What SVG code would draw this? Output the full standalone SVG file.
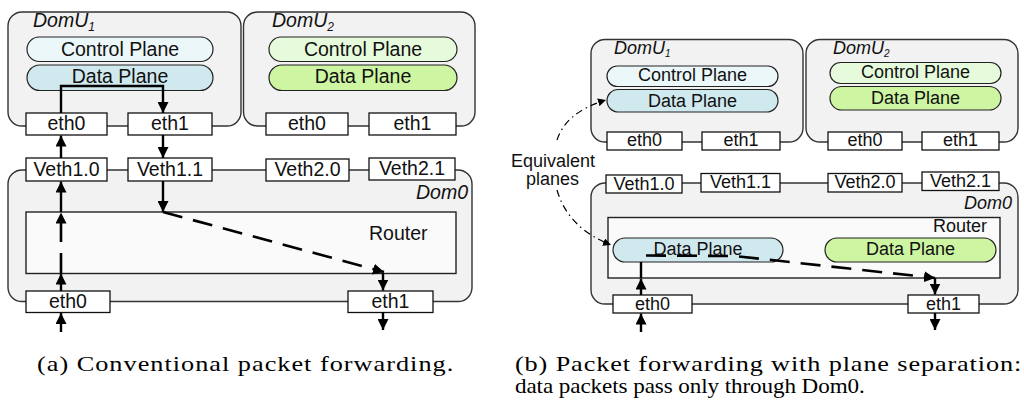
<svg xmlns="http://www.w3.org/2000/svg" width="1024" height="406" viewBox="0 0 1024 406">
<style>
.dom{fill:#f2f2f2;stroke:#333;stroke-width:1.4}
.rt{fill:#fafafa;stroke:#222;stroke-width:1.4}
.bx{fill:#fff;stroke:#111;stroke-width:1.3}
.cpb{fill:#ecf7fa;stroke:#222;stroke-width:1.2}
.dpb{fill:#d0e9ef;stroke:#222;stroke-width:1.2}
.cpg{fill:#e6fbdb;stroke:#222;stroke-width:1.2}
.dpg{fill:#cdf5a2;stroke:#222;stroke-width:1.2}
text{font-family:"Liberation Sans",Arial,sans-serif;fill:#111}
.a{font-size:19.5px}
.b{font-size:18px}
.c{text-anchor:middle}
.it{font-style:italic}
.cap{font-family:"Liberation Serif","Times New Roman",serif;font-size:21px;fill:#000}
.ar{fill:none;stroke:#000;stroke-width:2.4}
.ds{fill:none;stroke:#000;stroke-width:2.6;stroke-dasharray:20 11}
.dd{fill:none;stroke:#000;stroke-width:1.2;stroke-dasharray:7 4 1.5 4}
</style>
<defs>
<marker id="ah" viewBox="0 0 10 10" refX="10" refY="5" markerWidth="11" markerHeight="11" markerUnits="userSpaceOnUse" orient="auto"><path d="M0,0 L10,5 L0,10 z" fill="#000"/></marker>
<marker id="as" viewBox="0 0 10 10" refX="10" refY="5" markerWidth="8" markerHeight="8" markerUnits="userSpaceOnUse" orient="auto"><path d="M0,0 L10,5 L0,10 z" fill="#000"/></marker>
</defs>

<!-- ===== (a) ===== -->
<g id="a-domu1">
<rect class="dom" x="8" y="12" width="233" height="114" rx="14"/>
<text class="a it" x="33" y="27">DomU<tspan font-size="12" dy="4">1</tspan></text>
<rect class="cpb" x="27" y="37" width="186" height="24.5" rx="12.25"/>
<text class="a c" x="120" y="56">Control Plane</text>
<rect class="dpb" x="27" y="65" width="186" height="25.5" rx="12.75"/>
<text class="a c" x="120" y="83">Data Plane</text>
</g>
<g id="a-domu2">
<rect class="dom" x="243.5" y="12" width="231.5" height="114" rx="14"/>
<text class="a it" x="272" y="27">DomU<tspan font-size="12" dy="4">2</tspan></text>
<rect class="cpg" x="269" y="37" width="188" height="24.5" rx="12.25"/>
<text class="a c" x="363" y="56">Control Plane</text>
<rect class="dpg" x="269" y="65" width="188" height="25.5" rx="12.75"/>
<text class="a c" x="363" y="83">Data Plane</text>
</g>
<g id="a-dom0">
<rect class="dom" x="8" y="170" width="464" height="131.5" rx="14"/>
<text class="a it" x="468" y="199" text-anchor="end">Dom0</text>
</g>
<g id="a-router">
<rect class="rt" x="26" y="212" width="430" height="61.5"/>
<text class="a" x="369" y="240">Router</text>
</g>
<g id="a-u1eth0"><rect class="bx" x="26" y="113" width="81" height="22"/><text class="a c" x="66.5" y="130">eth0</text></g>
<g id="a-u1eth1"><rect class="bx" x="128" y="113" width="84" height="22"/><text class="a c" x="170" y="130">eth1</text></g>
<g id="a-u2eth0"><rect class="bx" x="266" y="113" width="82" height="22"/><text class="a c" x="307" y="130">eth0</text></g>
<g id="a-u2eth1"><rect class="bx" x="369" y="113" width="87" height="22"/><text class="a c" x="412.5" y="130">eth1</text></g>
<g id="a-veth10"><rect class="bx" x="26" y="158" width="81" height="23"/><text class="a c" x="66.5" y="176">Veth1.0</text></g>
<g id="a-veth11"><rect class="bx" x="128" y="158" width="84" height="23"/><text class="a c" x="170" y="176">Veth1.1</text></g>
<g id="a-veth20"><rect class="bx" x="266" y="159" width="83" height="22"/><text class="a c" x="307.5" y="176">Veth2.0</text></g>
<g id="a-veth21"><rect class="bx" x="369" y="158" width="86" height="22"/><text class="a c" x="412" y="175">Veth2.1</text></g>
<g id="a-eth0"><rect class="bx" x="26" y="291" width="84" height="21.5"/><text class="a c" x="68" y="308">eth0</text></g>
<g id="a-eth1"><rect class="bx" x="348" y="291" width="85" height="21.5"/><text class="a c" x="390.5" y="308">eth1</text></g>

<!-- ===== (b) ===== -->
<g id="b-domu1">
<rect class="dom" x="591" y="39.5" width="212" height="102.5" rx="14"/>
<text class="b it" x="614" y="54" font-size="14px">DomU<tspan font-size="10" dy="3">1</tspan></text>
<rect class="cpb" x="607" y="66" width="171" height="20.5" rx="10.25"/>
<text class="b c" x="692.5" y="81">Control Plane</text>
<rect class="dpb" x="607" y="89.5" width="171" height="22.5" rx="11.25"/>
<text class="b c" x="692.5" y="107">Data Plane</text>
</g>
<g id="b-domu2">
<rect class="dom" x="806" y="39.5" width="212" height="102.5" rx="14"/>
<text class="b it" x="833" y="54" font-size="14px">DomU<tspan font-size="10" dy="3">2</tspan></text>
<rect class="cpg" x="830" y="62.5" width="171" height="21" rx="10.5"/>
<text class="b c" x="915.5" y="77.5">Control Plane</text>
<rect class="dpg" x="830" y="86.5" width="171" height="23.5" rx="11.75"/>
<text class="b c" x="915.5" y="104">Data Plane</text>
</g>
<g id="b-dom0">
<rect class="dom" x="591" y="183" width="427" height="121" rx="14"/>
<text class="b it" x="1012" y="208.5" text-anchor="end">Dom0</text>
</g>
<g id="b-router">
<rect class="rt" x="608" y="217.5" width="392" height="60.5"/>
<text class="b" x="987" y="232" text-anchor="end">Router</text>
</g>
<g id="b-dp1"><rect class="dpb" x="613" y="238" width="170" height="24" rx="12"/><text class="b c" x="698" y="255">Data Plane</text></g>
<g id="b-dp2"><rect class="dpg" x="825" y="238" width="171" height="24" rx="12"/><text class="b c" x="910.5" y="255">Data Plane</text></g>
<g id="b-u1eth0"><rect class="bx" x="607" y="132" width="75" height="18"/><text class="b c" x="644.5" y="146">eth0</text></g>
<g id="b-u1eth1"><rect class="bx" x="702" y="132" width="78" height="18"/><text class="b c" x="741" y="146">eth1</text></g>
<g id="b-u2eth0"><rect class="bx" x="828" y="132" width="74" height="18"/><text class="b c" x="865" y="146">eth0</text></g>
<g id="b-u2eth1"><rect class="bx" x="922" y="132" width="77" height="18"/><text class="b c" x="960.5" y="146">eth1</text></g>
<g id="b-veth10"><rect class="bx" x="606" y="175" width="76" height="18"/><text class="b c" x="644" y="189.5">Veth1.0</text></g>
<g id="b-veth11"><rect class="bx" x="701" y="173.5" width="79" height="18.5"/><text class="b c" x="740.5" y="188">Veth1.1</text></g>
<g id="b-veth20"><rect class="bx" x="828" y="173.5" width="74" height="18.5"/><text class="b c" x="865" y="188">Veth2.0</text></g>
<g id="b-veth21"><rect class="bx" x="922" y="172" width="77" height="18.5"/><text class="b c" x="960.5" y="186.5">Veth2.1</text></g>
<g id="b-eth0"><rect class="bx" x="613" y="295" width="79" height="18"/><text class="b c" x="652.5" y="310">eth0</text></g>
<g id="b-eth1"><rect class="bx" x="908" y="295" width="71" height="18"/><text class="b c" x="943.5" y="310">eth1</text></g>
<g id="b-label">
<text class="b" x="511" y="167">Equivalent</text>
<text class="b" x="526" y="185">planes</text>
</g>

<!-- ===== connectors ===== -->
<g id="connectors">
<!-- (a) -->
<path class="ar" d="M61,113 V86 H163 V113" marker-end="url(#ah)"/>
<path class="ar" d="M61,158 V135.5" marker-end="url(#ah)"/>
<path class="ar" d="M163,135 V158" marker-end="url(#ah)"/>
<path class="ar" d="M163,181 V212" marker-end="url(#ah)"/>
<path class="ar" d="M61,212 V181.5" marker-end="url(#ah)"/>
<path class="ds" d="M61,273 V212.5" marker-end="url(#ah)"/>
<path class="ar" d="M61,291 V273.5" marker-end="url(#ah)"/>
<path class="ar" d="M61,332 V313" marker-end="url(#ah)"/>
<path class="ds" d="M163,212 L384,272" marker-end="url(#ah)"/>
<path class="ar" d="M383,273 V290.5" marker-end="url(#ah)"/>
<path class="ar" d="M383,312 V330" marker-end="url(#ah)"/>
<!-- (b) -->
<path class="ar" d="M641,332 V313.5" marker-end="url(#ah)"/>
<path class="ar" d="M641,295 V278.5" marker-end="url(#ah)"/>
<path class="ar" d="M641,278 V262"/>
<path class="ds" d="M646,255.5 L735,256 L935,278" marker-end="url(#ah)"/>
<path class="ar" d="M935,278 V294.5" marker-end="url(#ah)"/>
<path class="ar" d="M935,313 V330" marker-end="url(#ah)"/>
<path class="dd" d="M557,140 Q566,112 606,100" marker-end="url(#as)"/>
<path class="dd" d="M557,190 Q568,228 611,245" marker-end="url(#as)"/>
</g>

<!-- captions -->
<text class="cap" transform="translate(37,371) scale(1.25,1)" x="0" y="0" textLength="333" lengthAdjust="spacing">(a) Conventional packet forwarding.</text>
<text class="cap" transform="translate(515,371) scale(1.25,1)" x="0" y="0" textLength="405" lengthAdjust="spacing">(b) Packet forwarding with plane separation:</text>
<text class="cap" transform="translate(515,393) scale(1.1,1)" x="0" y="0" textLength="318" lengthAdjust="spacing">data packets pass only through Dom0.</text>
</svg>
